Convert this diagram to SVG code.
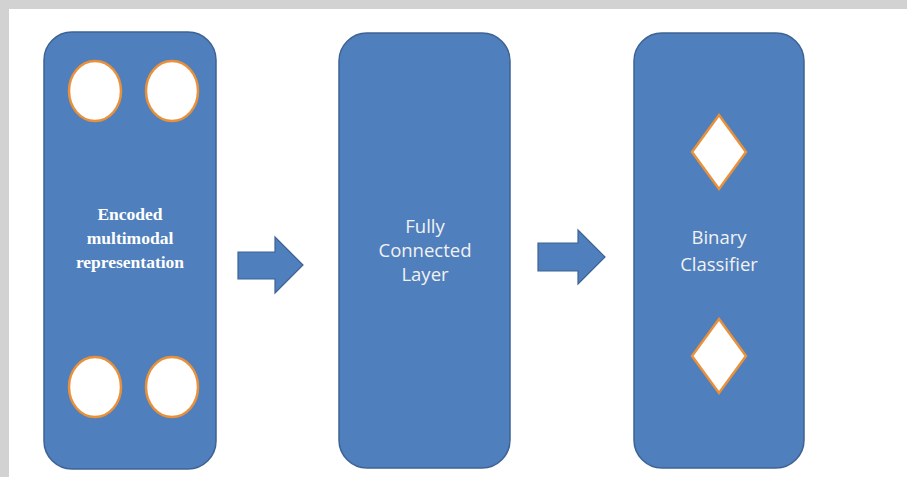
<svg xmlns="http://www.w3.org/2000/svg" width="907" height="477" viewBox="0 0 907 477">
  <style>
    .panel { fill: #4f7fbd; stroke: #3d6394; stroke-width: 1.5; }
    .arrow { fill: #4f7fbd; stroke: #3d6394; stroke-width: 1.2; }
    .unit { fill: #ffffff; stroke: #e8913a; stroke-width: 2.5; }
    .sans { font-family: "Open Sans", "Liberation Sans", sans-serif; font-size: 18.5px; fill: #f2f2f2; text-anchor: middle; }
    .serif { font-family: "Liberation Serif", "Times New Roman", serif; font-size: 17.5px; font-weight: bold; fill: #ffffff; text-anchor: middle; }
  </style>
  <!-- frame -->
  <rect x="0" y="0" width="907" height="477" fill="#ffffff"/>
  <rect x="0" y="0" width="907" height="9" fill="#d2d2d2"/>
  <rect x="0" y="0" width="9" height="477" fill="#d2d2d2"/>

  <g id="encoded">
    <rect class="panel" x="44" y="32" width="172" height="437" rx="28" ry="28"/>
    <ellipse class="unit" cx="95" cy="91" rx="26" ry="30"/>
    <ellipse class="unit" cx="172" cy="91" rx="26" ry="30"/>
    <ellipse class="unit" cx="95" cy="387" rx="26" ry="30"/>
    <ellipse class="unit" cx="172" cy="387" rx="26" ry="30"/>
    <text class="serif" x="130" y="220">Encoded</text>
    <text class="serif" x="130" y="244">multimodal</text>
    <text class="serif" x="130" y="268">representation</text>
  </g>

  <g id="fully-connected">
    <rect class="panel" x="339" y="33" width="171" height="435" rx="28" ry="28"/>
    <text class="sans" x="425" y="233">Fully</text>
    <text class="sans" x="425" y="257">Connected</text>
    <text class="sans" x="425" y="281">Layer</text>
  </g>

  <g id="classifier">
    <rect class="panel" x="634" y="33" width="170" height="435" rx="28" ry="28"/>
    <polygon class="unit" points="719,115 746,152 719,189 692,152"/>
    <polygon class="unit" points="719,319 746,356 719,393 692,356"/>
    <text class="sans" x="719" y="244">Binary</text>
    <text class="sans" x="719" y="271">Classifier</text>
  </g>

  <g id="connectors">
    <polygon class="arrow" points="238,252 275,252 275,237 303,265 275,293 275,279 238,279"/>
    <polygon class="arrow" points="538,243 578,243 578,230 605,257 578,284 578,271 538,271"/>
  </g>
</svg>
